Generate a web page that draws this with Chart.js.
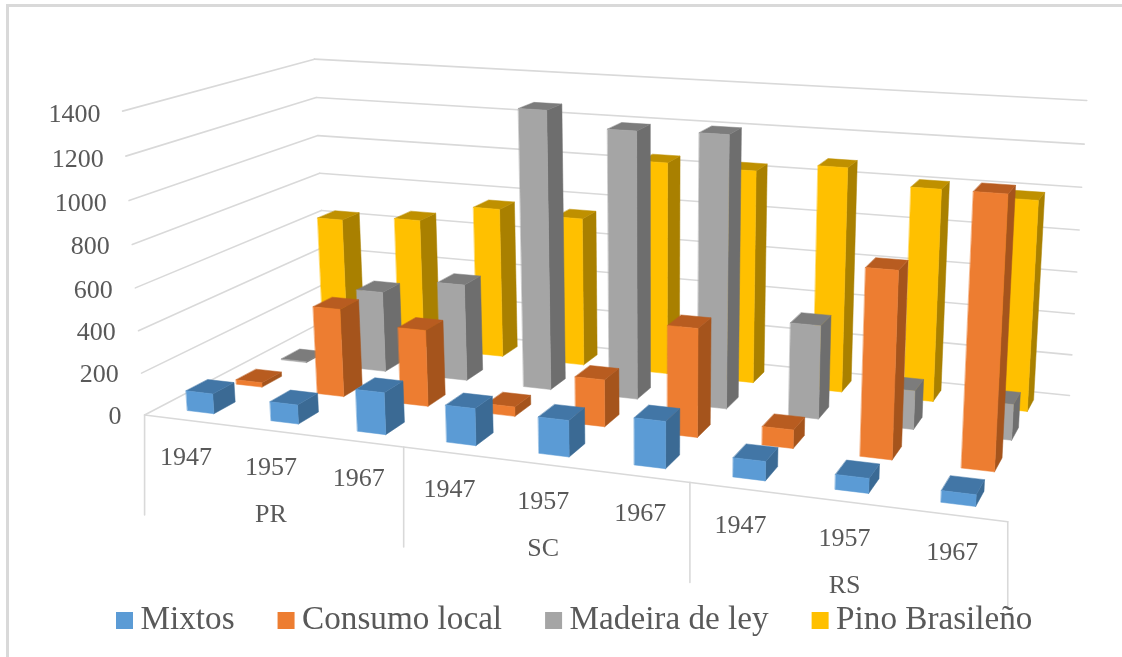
<!DOCTYPE html>
<html><head><meta charset="utf-8">
<style>html,body{margin:0;padding:0;background:#fff}canvas{display:block;filter:blur(.4px)}</style>
<script src="https://cdn.jsdelivr.net/npm/chart.js@4"></script>
</head><body>
<div style="width:1122px;height:657px"><canvas id="c" width="1122" height="657"></canvas></div>
<script>
const states = ['PR','SC','RS'];
const years = ['1947','1957','1967'];
const mixtos = [95,90,195,170,165,210,85,65,50];
const consumoLocal = [22,425,365,45,220,500,85,835,1190];
const madeiraDeLey = [5,400,475,1340,1270,1280,440,180,165];
const pinoBrasileno = [635,665,755,740,1045,1035,1080,1010,990];
const seriesNames = ['Mixtos','Consumo local','Madeira de ley','Pino Brasileño'];
const yTicksMax = 1400, yStep = 200;

const front = ['#5b9bd5','#ed7d31','#a5a5a5','#ffc000'];
const topFace = ['#4276a6','#b85c20','#7c7c7c','#bf9000'];
const sideFace = ['#3b6a94','#a5541c','#6e6e6e','#a98000'];
const gridColor = '#d9d9d9', textColor = '#595959', fontFamily = '"Liberation Serif"';
const BAR_W = 0.32, BAR_D = 0.43;

// Camera fit: floor/wall corners of the 3D box as (u, v, h) -> pixel
const anchors = [
  [0,0,0,143,413],[1,0,0,1008,523],[1,1,0,1069,394],[0,1,0,328,322],
  [0,0,1,124,112],[0,1,1,313,58],[1,1,1,1087,101]
];
function solveCamera(pts){
  const A=[],B=[];
  for(const [u,v,h,X,Y] of pts){
    A.push([u,v,h,1,0,0,0,0,-X*u,-X*v,-X*h]);B.push(X);
    A.push([0,0,0,0,u,v,h,1,-Y*u,-Y*v,-Y*h]);B.push(Y);
  }
  const n=11,M=[];
  for(let i=0;i<n;i++){M.push(new Array(n+1).fill(0));
    for(let j=0;j<n;j++)for(let r=0;r<A.length;r++)M[i][j]+=A[r][i]*A[r][j];
    for(let r=0;r<A.length;r++)M[i][n]+=A[r][i]*B[r];}
  for(let c=0;c<n;c++){let p=c;for(let r=c+1;r<n;r++)if(Math.abs(M[r][c])>Math.abs(M[p][c]))p=r;
    [M[c],M[p]]=[M[p],M[c]];
    for(let r=0;r<n;r++){if(r===c)continue;const f=M[r][c]/M[c][c];for(let k=c;k<=n;k++)M[r][k]-=f*M[c][k];}}
  return M.map((row,i)=>row[n]/row[i]);
}
const P = solveCamera(anchors);
function project(u,v,h){
  const w=P[8]*u+P[9]*v+P[10]*h+1;
  return [(P[0]*u+P[1]*v+P[2]*h+P[3])/w,(P[4]*u+P[5]*v+P[6]*h+P[7])/w];
}
function poly(ctx,pts,color){
  ctx.beginPath();pts.forEach((p,i)=>i?ctx.lineTo(p[0],p[1]):ctx.moveTo(p[0],p[1]));ctx.closePath();
  ctx.fillStyle=color;ctx.strokeStyle=color;ctx.lineWidth=0.5;ctx.fill();ctx.stroke();
}
function seg(ctx,a,b){ctx.beginPath();ctx.moveTo(a[0],a[1]);ctx.lineTo(b[0],b[1]);ctx.stroke();}

const bars3d = {
  id:'bars3d',
  beforeDatasetsDraw(chart){
    const ctx=chart.ctx,{x,y}=chart.scales;
    const hOf=val=>(y.bottom-y.getPixelForValue(val))/(y.bottom-y.top);
    ctx.save();
    // frame
    ctx.fillStyle=gridColor;ctx.fillRect(6,4,1116,3);ctx.fillRect(6,4,3,653);
    // walls and floor gridlines
    ctx.strokeStyle=gridColor;ctx.lineWidth=1.6;ctx.lineCap='round';
    y.ticks.forEach(t=>{const h=hOf(t.value);
      seg(ctx,project(0,0,h),project(0,1,h));seg(ctx,project(0,1,h),project(1,1,h));});
    seg(ctx,project(0,0,0),project(1,0,0));
    states.forEach((s,i)=>{const p=project(i/states.length,0,0);seg(ctx,p,[p[0],p[1]+100]);});
    const pe=project(1,0,0);seg(ctx,pe,[pe[0],pe[1]+87]);
    // value axis labels
    ctx.font='26px '+fontFamily;ctx.fillStyle=textColor;ctx.textAlign='right';ctx.textBaseline='middle';
    y.ticks.forEach(t=>{const h=hOf(t.value),p=project(0,0,h);ctx.fillText(String(t.value),p[0]-23+h,p[1]+2+2*h);});
    // category labels
    ctx.textAlign='center';
    chart.data.labels.forEach((l,i)=>{
      const u=(x.getPixelForValue(i)-x.left)/x.width,p=project(u,0,0);
      ctx.fillText(l[0],p[0],p[1]+38);
    });
    states.forEach((s,i)=>{const p=project((i+.5)/states.length,0,0);ctx.fillText(s,p[0],p[1]+85);});
    // bars: back row first, right to left in each row
    const n=chart.data.datasets.length;
    for(let s=n-1;s>=0;s--){
      const vals=chart.data.datasets[s].data,v=(s+.5)/n,dv=BAR_D/n/2;
      for(let i=vals.length-1;i>=0;i--){
        const u=(x.getPixelForValue(i)-x.left)/x.width,du=BAR_W/vals.length/2,h=hOf(vals[i]);
        const a=project(u-du,v-dv,0),b=project(u+du,v-dv,0),c=project(u+du,v+dv,0);
        const at=project(u-du,v-dv,h),bt=project(u+du,v-dv,h),ct=project(u+du,v+dv,h),dt=project(u-du,v+dv,h);
        poly(ctx,[b,c,ct,bt],sideFace[s]);
        poly(ctx,[at,bt,ct,dt],topFace[s]);
        poly(ctx,[a,b,bt,at],front[s]);
      }
    }
    // legend
    ctx.font='33.2px '+fontFamily;ctx.textAlign='left';ctx.textBaseline='alphabetic';
    let lx=116;
    chart.data.datasets.forEach((d,s)=>{
      ctx.fillStyle=front[s];ctx.fillRect(lx,612,17,17);
      ctx.fillStyle=textColor;ctx.fillText(d.label,lx+24.5,629);
      lx+=24.5+ctx.measureText(d.label).width+43;
    });
    ctx.restore();
    return false;
  }
};

const labels = [];
states.forEach(s=>years.forEach(y=>labels.push([y,s])));
new Chart(document.getElementById('c'),{
  type:'bar',
  data:{labels,datasets:[
    {label:seriesNames[0],data:mixtos,backgroundColor:front[0]},
    {label:seriesNames[1],data:consumoLocal,backgroundColor:front[1]},
    {label:seriesNames[2],data:madeiraDeLey,backgroundColor:front[2]},
    {label:seriesNames[3],data:pinoBrasileno,backgroundColor:front[3]}
  ]},
  options:{
    responsive:false,animation:false,
    layout:{padding:{left:143,right:114,top:113,bottom:244}},
    plugins:{legend:{display:false},tooltip:{enabled:false}},
    scales:{
      x:{display:false},
      y:{display:false,min:0,max:yTicksMax,ticks:{stepSize:yStep}}
    }
  },
  plugins:[bars3d]
});
</script>
</body></html>
